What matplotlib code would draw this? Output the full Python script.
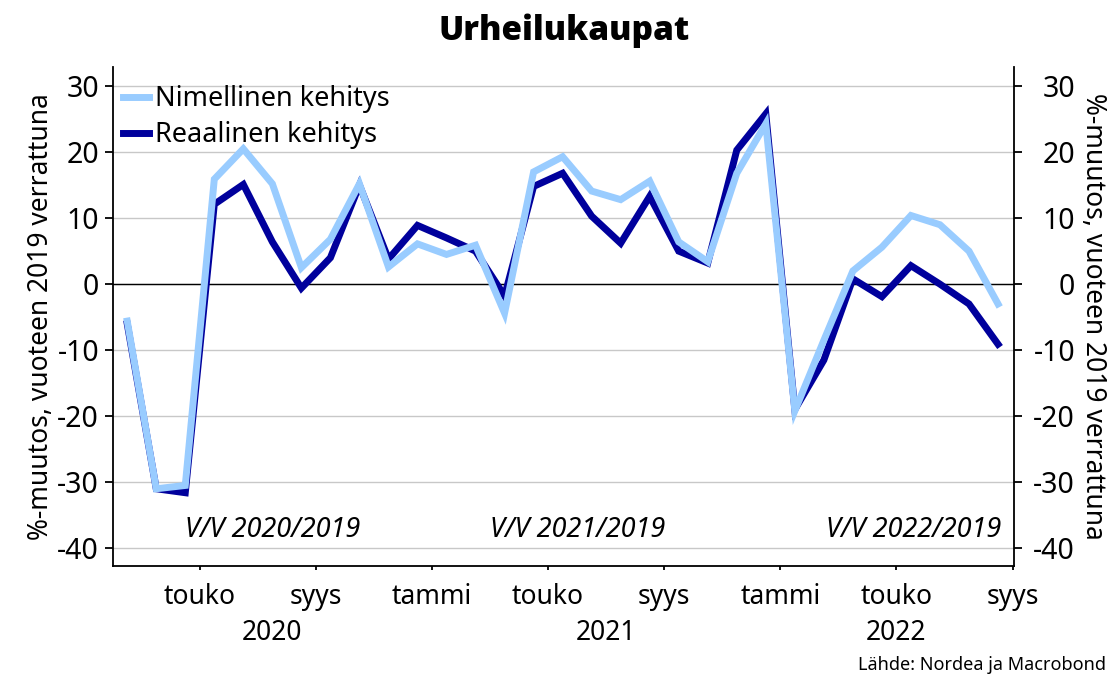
import numpy as np
import matplotlib.pyplot as plt

plt.rcParams['font.family'] = ['Noto Sans', 'DejaVu Sans']
plt.rcParams['axes.unicode_minus'] = False

# monthly data, March 2020 .. September 2022
nimellinen = [-5.6, -31.0, -30.5, 15.9, 20.5, 15.2, 2.5, 6.8, 15.2, 2.6, 6.1, 4.5, 5.9, -4.4,
              17.0, 19.3, 14.1, 12.8, 15.6, 6.4, 3.4, 16.8, 24.3, -19.2, -8.5, 2.0,
              5.6, 10.4, 9.0, 5.0, -3.0]
reaalinen = [-6.0, -31.0, -31.6, 12.1, 15.1, 6.4, -0.6, 4.0, 15.0, 3.8, 8.9, 7.0, 5.0, -1.8,
             14.8, 16.8, 10.3, 6.2, 13.3, 5.0, 3.2, 20.3, 25.8, -19.0, -11.5, 0.8,
             -1.9, 2.8, 0.0, -3.0, -9.1]

month_labels = ['touko', 'syys', 'tammi', 'touko', 'syys', 'tammi', 'touko', 'syys']
year_labels = ['2020', '2021', '2022']
period_labels = ['V/V 2020/2019', 'V/V 2021/2019', 'V/V 2022/2019']

x = np.arange(len(nimellinen))
tick_pos = np.arange(2, 31, 4) + 0.5
jan_pos = [10.5, 22.5]

fig = plt.figure(figsize=(11.1, 6.82), dpi=100)
ax = fig.add_axes([0.1018, 0.1701, 0.8117, 0.7317])

ax.plot(x, reaalinen, color='#00009c', lw=5.0, solid_joinstyle='miter', label='Reaalinen kehitys', zorder=3)
ax.plot(x, nimellinen, color='#99ccff', lw=5.0, solid_joinstyle='miter', label='Nimellinen kehitys', zorder=4)

ax.set_xlim(-0.49, 30.55)
ax.set_ylim(-42.7, 32.9)
ax.set_yticks(np.arange(-40, 31, 10))
ax.yaxis.grid(True, color='#c8c8c8', lw=1)
ax.set_axisbelow(True)
ax.axhline(0, color='black', lw=1, zorder=2)

for s in ['top', 'right']:
    ax.spines[s].set_visible(False)
ax.spines['left'].set_linewidth(1.3)
ax.spines['bottom'].set_linewidth(1.3)

ax.set_xticks(tick_pos)
ax.set_xticklabels(month_labels)
ax.set_xticks(jan_pos, minor=True)
ax.tick_params(axis='x', which='major', length=3, width=1.3, labelsize=19, pad=9)
ax.tick_params(axis='x', which='minor', length=7, width=1.3)
ax.tick_params(axis='y', length=6, width=1.3, labelsize=20.5, pad=4)
ax.set_ylabel('%-muutos, vuoteen 2019 verrattuna', fontsize=19, labelpad=2)

ax2 = ax.twinx()
ax2.set_ylim(ax.get_ylim())
ax2.set_yticks(np.arange(-40, 31, 10))
for s in ['top', 'left', 'bottom']:
    ax2.spines[s].set_visible(False)
ax2.spines['right'].set_linewidth(1.3)
ax2.tick_params(axis='y', length=6, width=1.3, labelsize=20.5, pad=38)
for t in ax2.get_yticklabels():
    t.set_horizontalalignment('right')
ax2.set_ylabel('%-muutos, vuoteen 2019 verrattuna', fontsize=19, rotation=-90, labelpad=23)

for xp, lab in zip([5.0, 16.5, 26.5], year_labels):
    ax.text(xp, -0.135, lab, transform=ax.get_xaxis_transform(), ha='center', va='center', fontsize=19)

ax.text(5.0, -37.3, period_labels[0], ha='center', va='center', fontsize=19.5, style='italic')
ax.text(15.5, -37.3, period_labels[1], ha='center', va='center', fontsize=19.5, style='italic')
ax.text(30.1, -37.3, period_labels[2], ha='right', va='center', fontsize=19.5, style='italic')

h, l = ax.get_legend_handles_labels()
ax.legend(h[::-1], l[::-1], loc='upper left', bbox_to_anchor=(-0.016, 1.012), frameon=False,
          fontsize=19.5, handlelength=0.95, handletextpad=0.25, labelspacing=0.3)

fig.text(0.508, 0.955, 'Urheilukaupat', ha='center', va='center', fontsize=24,
         fontweight='heavy', family=['Open Sans', 'DejaVu Sans'])
fig.text(0.996, 0.012, 'Lähde: Nordea ja Macrobond', ha='right', va='bottom', fontsize=13)

fig.savefig('out.png', dpi=100)
